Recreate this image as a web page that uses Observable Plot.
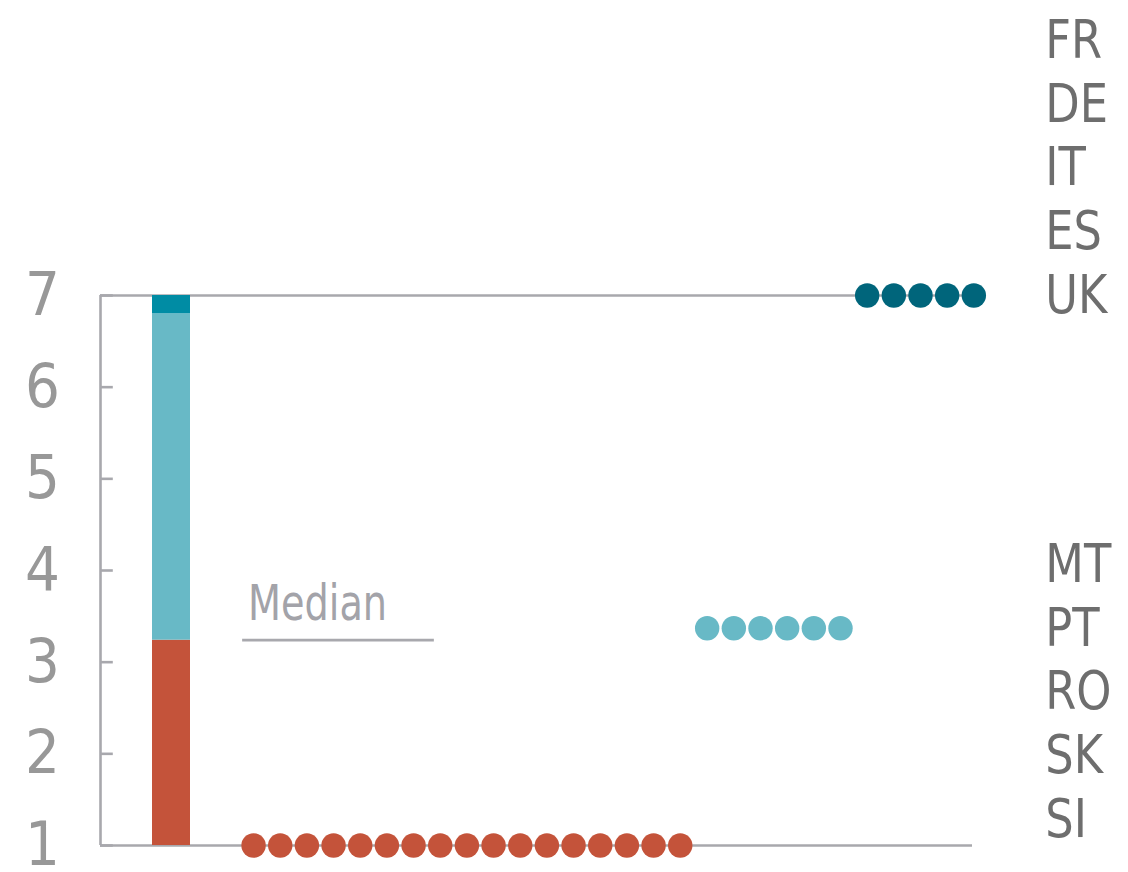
<!DOCTYPE html>
<html>
<head>
<meta charset="utf-8">
<script src="https://cdn.jsdelivr.net/npm/d3@7"></script>
<script src="https://cdn.jsdelivr.net/npm/@observablehq/plot@0.6"></script>
<style>
  html, body { margin: 0; padding: 0; background: #fff; }
  #chart svg { display: block; }
</style>
</head>
<body>
<div id="chart"></div>
<script>
// ---- data ----
const yTicks = [1, 2, 3, 4, 5, 6, 7];
const groupNames = ["low", "middle", "high"];
const groupLevels = [1, 3.37, 7];
const groupCounts = [17, 6, 5];
const groupColors = ["#C4533A", "#68B9C6", "#00657B"];
const barBreaks = [1, 3.24, 6.8, 7];
const barColors = ["#C4533A", "#68B9C6", "#008CA4"];
const medianValue = 3.24;
const medianLabel = "Median";
const topLabels = ["FR", "DE", "IT", "ES", "UK"];
const bottomLabels = ["MT", "PT", "RO", "SK", "SI"];

// ---- layout (slot units on x) ----
const groupStart = [5.74, 22.75, 28.75];
const xEnd = 32.7;
const labelStep = 0.695;
const FONT = "'Liberation Sans Narrow', 'DejaVu Sans Condensed', 'Open Sans', sans-serif";

const dots = [];
groupNames.forEach((g, gi) => {
  for (let i = 0; i < groupCounts[gi]; i++) {
    dots.push({group: g, x: groupStart[gi] + i, y: groupLevels[gi], color: groupColors[gi]});
  }
});
const barSegs = barColors.map((c, i) => ({y1: barBreaks[i], y2: barBreaks[i + 1], color: c}));
const rightLabels = [
  ...topLabels.map((t, i) => ({t, y: groupLevels[2] + (topLabels.length - 1 - i) * labelStep})),
  ...bottomLabels.map((t, i) => ({t, y: groupLevels[1] - (i - 1) * labelStep}))
];

const axisColor = "#A8A8AD";

const chart = Plot.plot({
  width: 1128,
  height: 872,
  marginLeft: 100,
  marginRight: 156,
  marginTop: 295,
  marginBottom: 27,
  x: {domain: [0, xEnd], axis: null},
  y: {domain: [1, 7], axis: null},
  style: {fontFamily: FONT, background: "white"},
  marks: [
    // frame lines
    Plot.ruleY([1, 7], {x1: 0, x2: xEnd, stroke: axisColor, strokeWidth: 2.6}),
    Plot.ruleX([0], {y1: 1, y2: 7, stroke: axisColor, strokeWidth: 2.6}),
    Plot.ruleY(yTicks, {x1: 0, x2: 0.48, stroke: axisColor, strokeWidth: 2.6}),
    Plot.text(yTicks, {x: 0, y: d => d, text: d => String(d), dx: -58, textAnchor: "middle",
      fontSize: 61, fill: "#989898"}),
    // stacked bar
    Plot.rectY(barSegs, {x1: 1.95, x2: 3.375, y1: "y1", y2: "y2", fill: "color"}),
    // median
    Plot.ruleY([medianValue], {x1: 5.33, x2: 12.52, stroke: axisColor, strokeWidth: 2.6}),
    Plot.text([medianLabel], {x: 5.53, y: medianValue, text: d => d, textAnchor: "start",
      dy: -36, fontSize: 50, fill: "#A3A3A9"}),
    // dots
    Plot.dot(dots, {x: "x", y: "y", r: 12.2, fill: "color", stroke: "none"}),
    // right labels
    Plot.text(rightLabels, {x: 35.43, y: "y", text: "t", textAnchor: "start",
      fontSize: 54, fill: "#6E6E6E"})
  ]
});
document.getElementById("chart").appendChild(chart);

// narrow the labels to resemble the original condensed typeface
const squeezeFactor = new Map([[medianLabel, 0.85], ...[...topLabels, ...bottomLabels].map(t => [t, 0.92])]);
chart.querySelectorAll("text").forEach(t => {
  const f = squeezeFactor.get(t.textContent.trim());
  if (f) {
    const len = t.getComputedTextLength();
    t.setAttribute("textLength", (len * f).toFixed(1));
    t.setAttribute("lengthAdjust", "spacingAndGlyphs");
  }
});
</script>
</body>
</html>
